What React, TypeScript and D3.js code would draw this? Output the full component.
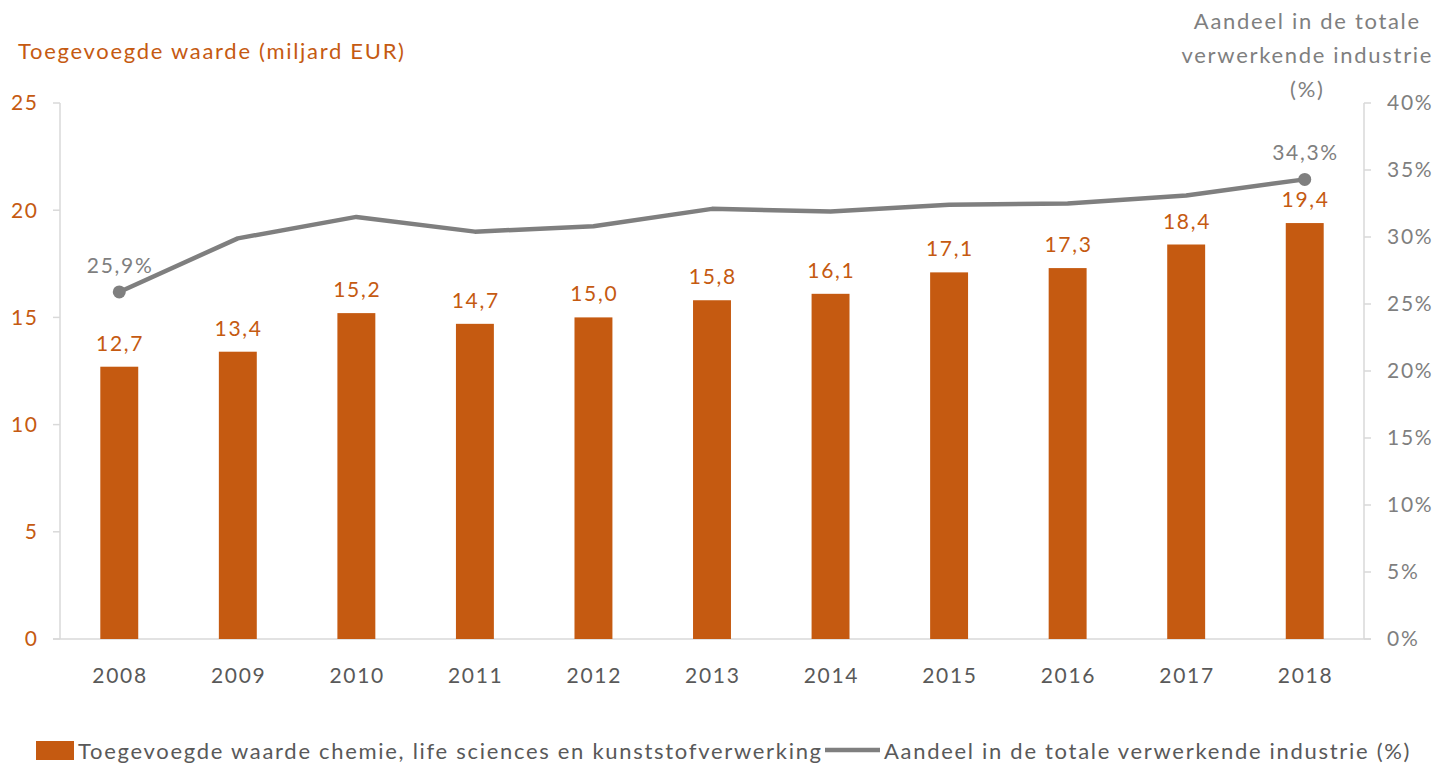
import React from "react";
import * as d3 from "d3";

const years = ["2008","2009","2010","2011","2012","2013","2014","2015","2016","2017","2018"];
const valueAdded = [12.7,13.4,15.2,14.7,15.0,15.8,16.1,17.1,17.3,18.4,19.4];
const sharePct = [25.9,29.9,31.5,30.4,30.8,32.1,31.9,32.4,32.5,33.1,34.3];
const leftTicks = [0,5,10,15,20,25];
const rightTicks = [0,5,10,15,20,25,30,35,40];
const labelledShare = [0,10];

const W = 1437, H = 764;
const ORANGE = "#C55A11";
const GREY = "#7F7F7F";
const DARK = "#595959";
const AXIS = "#D9D9D9";
const FONT = "Lato, 'Open Sans', sans-serif";
const LS = 1.7;

const fmt = (v: number, d = 1) => v.toFixed(d).replace(".", ",");

export default function App() {
  const left = 60, right = 1364, top = 103, bottom = 639;
  const x = d3.scaleBand<string>().domain(years).range([left, right]).paddingInner(0.68).paddingOuter(0.34);
  const yL = d3.scaleLinear().domain([0, 25]).range([bottom, top]);
  const yR = d3.scaleLinear().domain([0, 40]).range([bottom, top]);
  const cx = (y: string) => (x(y) as number) + x.bandwidth() / 2;
  const line = d3.line<number>().x((_, i) => cx(years[i])).y(v => yR(v));
  const mid = LS / 2; // compensation for trailing letter-spacing on centred text

  return (
    <div style={{ position: "fixed", left: 0, top: 0, width: W, height: H, background: "#fff" }}>
      <svg width={W} height={H} style={{ fontFamily: FONT, display: "block", letterSpacing: `${LS}px` }}>
        <rect width={W} height={H} fill="#fff" />
        {/* axes */}
        <line x1={left} x2={left} y1={top} y2={bottom} stroke={AXIS} strokeWidth={1.5} />
        <line x1={right} x2={right} y1={top} y2={bottom} stroke={AXIS} strokeWidth={1.5} />
        <line x1={left - 7} x2={right + 7} y1={bottom} y2={bottom} stroke={AXIS} strokeWidth={1.5} />
        {leftTicks.map(t => (
          <g key={"l" + t}>
            <line x1={left - 7} x2={left} y1={yL(t)} y2={yL(t)} stroke={AXIS} strokeWidth={1.5} />
            <text x={37 + LS} y={yL(t)} dy="0.35em" textAnchor="end" fontSize={21} fill={ORANGE}>{t}</text>
          </g>
        ))}
        {rightTicks.map(t => (
          <g key={"r" + t}>
            <line x1={right} x2={right + 7} y1={yR(t)} y2={yR(t)} stroke={AXIS} strokeWidth={1.5} />
            <text x={1387} y={yR(t)} dy="0.35em" textAnchor="start" fontSize={21} fill={GREY}>{t}%</text>
          </g>
        ))}
        {years.map(y => (
          <text key={"x" + y} x={cx(y) + mid} y={676} dy="0.35em" textAnchor="middle" fontSize={21} fill={DARK}>{y}</text>
        ))}
        {/* bars */}
        {years.map((y, i) => (
          <g key={"b" + y}>
            <rect x={x(y)} y={yL(valueAdded[i])} width={x.bandwidth()} height={bottom - yL(valueAdded[i])} fill={ORANGE} />
            <text x={cx(y) + mid} y={yL(valueAdded[i]) - 16} textAnchor="middle" fontSize={21} fill={ORANGE}>{fmt(valueAdded[i])}</text>
          </g>
        ))}
        {/* line */}
        <path d={line(sharePct) || ""} fill="none" stroke={GREY} strokeWidth={4.5} strokeLinejoin="round" />
        {labelledShare.map(i => (
          <g key={"p" + i}>
            <circle cx={cx(years[i])} cy={yR(sharePct[i])} r={6.5} fill={GREY} />
            <text x={cx(years[i]) + mid} y={yR(sharePct[i]) - 19} textAnchor="middle" fontSize={21} fill={GREY}>{fmt(sharePct[i])}%</text>
          </g>
        ))}
        {/* titles */}
        <text x={18} y={51} dy="0.35em" fontSize={22} fill={ORANGE}>Toegevoegde waarde (miljard EUR)</text>
        {["Aandeel in de totale", "verwerkende industrie", "(%)"].map((s, i) => (
          <text key={"t" + i} x={1306.5 + mid} y={21.5 + i * 34} dy="0.35em" textAnchor="middle" fontSize={22} fill={GREY}>{s}</text>
        ))}
        {/* legend */}
        <rect x={36} y={741} width={38} height={19} fill={ORANGE} />
        <text x={78} y={751} dy="0.35em" fontSize={22} fill={DARK}>Toegevoegde waarde chemie, life sciences en kunststofverwerking</text>
        <line x1={825} x2={880} y1={750} y2={750} stroke={GREY} strokeWidth={4.5} />
        <text x={884} y={751} dy="0.35em" fontSize={22} fill={DARK}>Aandeel in de totale verwerkende industrie (%)</text>
      </svg>
    </div>
  );
}
